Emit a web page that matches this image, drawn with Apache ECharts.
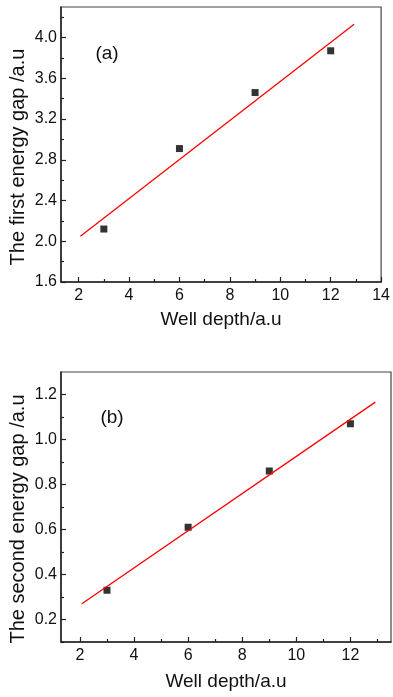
<!DOCTYPE html>
<html>
<head>
<meta charset="utf-8">
<script src="https://cdn.jsdelivr.net/npm/echarts@6/dist/echarts.min.js"></script>
<style>
html,body{margin:0;padding:0;background:#fff;}
#chart{width:393px;height:697px;}
</style>
</head>
<body>
<div id="chart"></div>
<script>
// ---- data ----
const wellDepth = [3, 6, 9, 12];
const firstGap = [2.12, 2.91, 3.46, 3.87];
const secondGap = [0.33, 0.61, 0.86, 1.07];
const fitFirstX = [2.07, 12.93];
const fitFirstY = [2.05, 4.13];
const fitSecondX = [2.07, 12.92];
const fitSecondY = [0.27, 1.166];

const xTicksA = [2, 4, 6, 8, 10, 12, 14];
const xMinorA = [3, 5, 7, 9, 11, 13];
const yTicksA = [1.6, 2.0, 2.4, 2.8, 3.2, 3.6, 4.0];
const yMinorA = [1.8, 2.2, 2.6, 3.0, 3.4, 3.8, 4.2];
const xTicksB = [2, 4, 6, 8, 10, 12];
const xMinorB = [3, 5, 7, 9, 11, 13];
const yTicksB = [0.2, 0.4, 0.6, 0.8, 1.0, 1.2];
const yMinorB = [0.1, 0.3, 0.5, 0.7, 0.9, 1.1];

const xLabel = 'Well depth/a.u';
const yLabelA = 'The first energy gap /a.u';
const yLabelB = 'The second energy gap /a.u';
const panelA = '(a)';
const panelB = '(b)';

const FONT = "'Liberation Sans', Arial, sans-serif";
const AX = '#222';

function pairs(xs, ys) { return xs.map((x, i) => [x, ys[i]]); }

function mainX(grid, min, max, ticks) {
  return {
    type: 'value', gridIndex: grid, min: min, max: max, position: 'bottom',
    name: xLabel, nameLocation: 'middle', nameGap: grid === 0 ? 28 : 30,
    nameTextStyle: { fontFamily: FONT, fontSize: 19, color: '#111' },
    axisLine: { show: true, onZero: false, lineStyle: { color: AX, width: 1.5 } },
    axisTick: { show: true, inside: true, length: 5, customValues: ticks, lineStyle: { color: AX, width: 1.2 } },
    axisLabel: { show: true, customValues: ticks, margin: 6, fontFamily: FONT, fontSize: 16, color: '#111',
      formatter: v => String(Math.round(v)) },
    splitLine: { show: false }
  };
}
function minorX(grid, min, max, ticks) {
  return {
    type: 'value', gridIndex: grid, min: min, max: max, position: 'bottom',
    axisLine: { show: false, onZero: false },
    axisTick: { show: true, inside: true, length: 3, customValues: ticks, lineStyle: { color: AX, width: 1.2 } },
    axisLabel: { show: false, customValues: ticks },
    splitLine: { show: false }
  };
}
function mainY(grid, min, max, ticks) {
  return {
    type: 'value', gridIndex: grid, min: min, max: max, position: 'left',
    axisLine: { show: true, onZero: false, lineStyle: { color: AX, width: 1.5 } },
    axisTick: { show: true, inside: true, length: 5, customValues: ticks, lineStyle: { color: AX, width: 1.2 } },
    axisLabel: { show: true, customValues: ticks, margin: 4, fontFamily: FONT, fontSize: 16, color: '#111',
      formatter: v => v.toFixed(1) },
    splitLine: { show: false }
  };
}
function minorY(grid, min, max, ticks) {
  return {
    type: 'value', gridIndex: grid, min: min, max: max, position: 'left',
    axisLine: { show: false, onZero: false },
    axisTick: { show: true, inside: true, length: 3, customValues: ticks, lineStyle: { color: AX, width: 1.2 } },
    axisLabel: { show: false, customValues: ticks },
    splitLine: { show: false }
  };
}

const chart = echarts.init(document.getElementById('chart'), null, { renderer: 'canvas' });
chart.setOption({
  animation: false,
  backgroundColor: '#fff',
  grid: [
    { left: 61, top: 7, width: 322, height: 275, show: true, borderColor: '#444', borderWidth: 1.2, backgroundColor: 'transparent' },
    { left: 61, top: 372, width: 330, height: 270, show: true, borderColor: '#444', borderWidth: 1.2, backgroundColor: 'transparent' }
  ],
  xAxis: [
    mainX(0, 1.3, 14, xTicksA),
    minorX(0, 1.3, 14, xMinorA),
    mainX(1, 1.3, 13.5, xTicksB),
    minorX(1, 1.3, 13.5, xMinorB)
  ],
  yAxis: [
    mainY(0, 1.6, 4.3, yTicksA),
    minorY(0, 1.6, 4.3, yMinorA),
    mainY(1, 0.1, 1.3, yTicksB),
    minorY(1, 0.1, 1.3, yMinorB)
  ],
  series: [
    { type: 'line', xAxisIndex: 0, yAxisIndex: 0, data: pairs(fitFirstX, fitFirstY), showSymbol: false,
      lineStyle: { color: '#ff0000', width: 1.3 }, silent: true },
    { type: 'scatter', xAxisIndex: 0, yAxisIndex: 0, data: pairs(wellDepth, firstGap), symbol: 'rect', symbolSize: 7,
      itemStyle: { color: '#000' } },
    { type: 'line', xAxisIndex: 2, yAxisIndex: 2, data: pairs(fitSecondX, fitSecondY), showSymbol: false,
      lineStyle: { color: '#ff0000', width: 1.3 }, silent: true },
    { type: 'scatter', xAxisIndex: 2, yAxisIndex: 2, data: pairs(wellDepth, secondGap), symbol: 'rect', symbolSize: 7,
      itemStyle: { color: '#000' } }
  ],
  graphic: [
    { type: 'text', x: 18, y: 157, rotation: Math.PI / 2,
      style: { text: yLabelA, font: "20px 'Liberation Sans', Arial, sans-serif", fill: '#111', align: 'center', verticalAlign: 'middle' } },
    { type: 'text', x: 18, y: 519, rotation: Math.PI / 2,
      style: { text: yLabelB, font: "20px 'Liberation Sans', Arial, sans-serif", fill: '#111', align: 'center', verticalAlign: 'middle' } },
    { type: 'text', x: 107, y: 54,
      style: { text: panelA, font: "19px 'Liberation Sans', Arial, sans-serif", fill: '#111', align: 'center', verticalAlign: 'middle' } },
    { type: 'text', x: 112, y: 418,
      style: { text: panelB, font: "19px 'Liberation Sans', Arial, sans-serif", fill: '#111', align: 'center', verticalAlign: 'middle' } }
  ]
});
</script>
</body>
</html>
